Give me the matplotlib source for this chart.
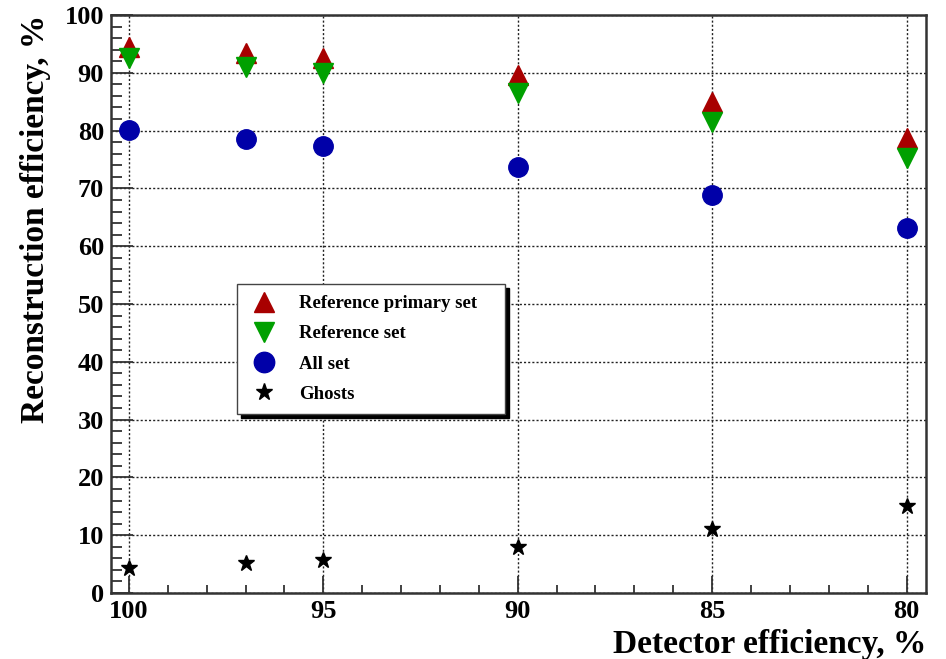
import numpy as np
import matplotlib
matplotlib.use("Agg")
import matplotlib.pyplot as plt
from matplotlib.ticker import MultipleLocator

# detector efficiency, %
det_eff = [100, 97, 95, 90, 85, 80]
# reconstruction efficiency, %
ref_primary = [94.5, 93.4, 92.5, 89.6, 84.9, 78.7]
ref_set = [92.5, 91.0, 90.0, 86.5, 81.5, 75.3]
all_set = [80.1, 78.5, 77.3, 73.7, 68.9, 63.1]
ghosts = [4.3, 5.2, 5.7, 8.0, 11.1, 15.1]

labels = ["Reference primary set", "Reference set", "All set", "Ghosts"]

plt.rcParams['font.family'] = ['Liberation Serif', 'DejaVu Serif']
plt.rcParams['font.weight'] = 'bold'

fig = plt.figure(figsize=(9.46, 6.59), dpi=100)
ax = fig.add_axes([111/946, 1 - 593/659, 815/946, 578/659])

ax.plot(det_eff, ref_primary, ls='none', marker='^', ms=14, color='#a80000', label=labels[0], zorder=3)
ax.plot(det_eff, ref_set, ls='none', marker='v', ms=14, color='#00a000', label=labels[1], zorder=3)
ax.plot(det_eff, all_set, ls='none', marker='o', ms=14, color='#0000a8', label=labels[2], zorder=3)
ax.plot(det_eff, ghosts, ls='none', marker='*', ms=12, color='black', label=labels[3], zorder=3)

ax.set_xlim(100.46, 79.5)
ax.set_ylim(0, 100)
ax.xaxis.set_major_locator(MultipleLocator(5))
ax.xaxis.set_minor_locator(MultipleLocator(1))
ax.yaxis.set_major_locator(MultipleLocator(10))
ax.yaxis.set_minor_locator(MultipleLocator(2))
ax.tick_params(which='both', direction='in', top=False, right=False, labelsize=19, width=1.3, color='#333333')
ax.tick_params(axis='x', which='major', length=12, pad=5)
ax.tick_params(axis='x', which='minor', length=6)
ax.tick_params(axis='y', which='major', length=16, pad=5)
ax.tick_params(axis='y', which='minor', length=8)
for lab in ax.get_xticklabels() + ax.get_yticklabels():
    lab.set_fontweight('bold')

ax.grid(True, which='major', color='#222222', ls=(0, (1.5, 1.5)), lw=1.0, zorder=1)
for sp in ax.spines.values():
    sp.set_linewidth(1.8)
    sp.set_color('#333333')

ax.set_xlabel("Detector efficiency, %", fontsize=24, fontweight='bold', loc='right', labelpad=4)
ax.set_ylabel("Reconstruction efficiency, %", fontsize=24, fontweight='bold', loc='top', labelpad=10)

leg = ax.legend(loc='upper left', bbox_to_anchor=(0.155, 0.304, 0.328, 0.231), mode='expand',
                fontsize=13.5, frameon=True, fancybox=False, edgecolor='#444444',
                framealpha=1, borderpad=0.6, labelspacing=0.7, handletextpad=1.1,
                handlelength=1.6, borderaxespad=0, markerscale=1.05,
                shadow={'ox': 3, 'oy': -3, 'color': 'black', 'alpha': 1})
leg.get_frame().set_linewidth(1.0)
for t in leg.get_texts():
    t.set_fontweight('bold')

fig.savefig("out.png", dpi=100)
